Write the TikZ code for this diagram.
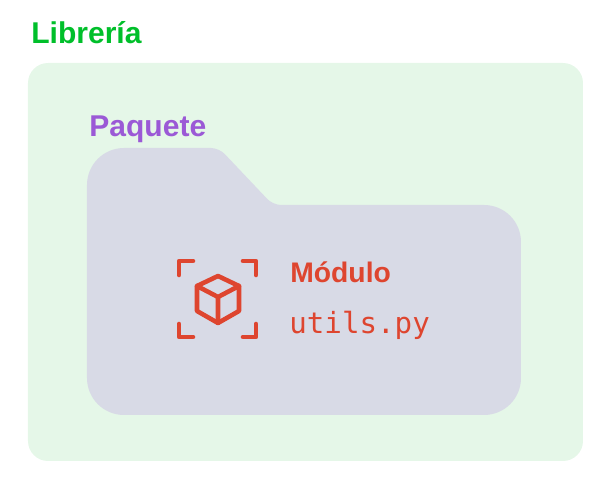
\documentclass[tikz,border=0pt]{standalone}
\usepackage{fontspec}
\usepackage{xcolor}
\setmainfont{Liberation Sans}
\setmonofont{DejaVu Sans Mono}
\definecolor{libGreen}{HTML}{00BF2A}
\definecolor{libBack}{HTML}{E5F7E8}
\definecolor{pkgPurple}{HTML}{9B59D6}
\definecolor{pkgBack}{HTML}{D8DAE6}
\definecolor{modRed}{HTML}{DE452F}
\usetikzlibrary{positioning}

\begin{document}
\begin{tikzpicture}[
  x=0.02cm, y=-0.02cm,
  title/.style={font=\fontsize{17.1}{18}\selectfont\bfseries, inner sep=0pt, anchor=base west},
  iconline/.style={modRed, line width=2.6pt, line cap=round, line join=round},
]
\useasboundingbox (0,0) rectangle (610,480);
\fill[libBack, rounded corners=0.4cm] (28,63) rectangle (583,461);
\fill[pkgBack, rounded corners=0.74cm] (87,148) [rounded corners=0.16cm] -- (219,148)
  -- (273,205) [rounded corners=0.74cm] -- (521,205) -- (521,415) -- (87,415) -- cycle;
\node[title, text=libGreen] (lib) at (31,44) {Librería};
\node[title, text=pkgPurple] (pkg) at (89,136) {Paquete};
\node[title, text=modRed, font=\fontsize{16.1}{18}\selectfont\bfseries] (mod) at (290,282) {Módulo};
\node[inner sep=0pt, anchor=base west, text=modRed, font=\fontsize{16.6}{18}\selectfont\ttfamily] (file) at (289,334) {utils.py};
% corners
\draw[iconline] (179,275) -- (179,261) -- (193,261);
\draw[iconline] (243,261) -- (256,261) -- (256,275);
\draw[iconline] (179,324) -- (179,337) -- (193,337);
\draw[iconline] (243,337) -- (256,337) -- (256,324);
% cube
\draw[iconline] (218,276) -- (239,286) -- (239,311) -- (218,323) -- (197,311) -- (197,286) -- cycle;
\draw[iconline] (197,286) -- (218,297) -- (239,286) (218,297) -- (218,323);
\end{tikzpicture}
\end{document}
